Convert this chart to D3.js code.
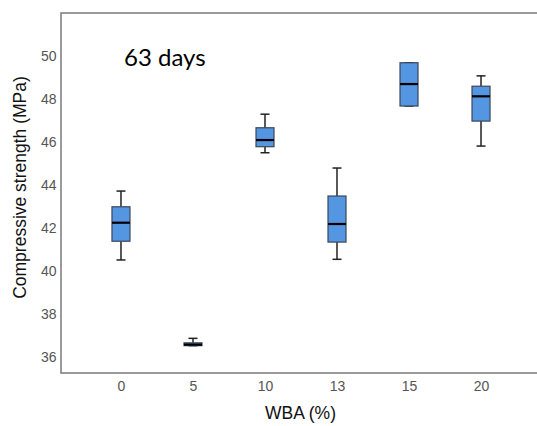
<!DOCTYPE html>
<html>
<head>
<meta charset="utf-8">
<script src="https://cdn.jsdelivr.net/npm/d3@7"></script>
<style>
  html, body { margin: 0; padding: 0; background: #fff; }
  svg { display: block; }
</style>
</head>
<body>
<svg id="chart" width="537" height="426"></svg>
<script>
// WBA replacement levels (%)
const categories = ["0", "5", "10", "13", "15", "20"];
// Box-plot statistics, compressive strength at 63 days (MPa)
const whiskerLow  = [40.53, 36.55, 45.51, 40.56, 47.68, 45.82];
const q1          = [41.40, 36.55, 45.79, 41.36, 47.68, 46.98];
const median      = [42.26, 36.60, 46.10, 42.20, 48.70, 48.13];
const q3          = [43.00, 36.68, 46.67, 43.50, 49.69, 48.60];
const whiskerHigh = [43.73, 36.89, 47.30, 44.80, 49.69, 49.08];
const yTicks = [36, 38, 40, 42, 44, 46, 48, 50];

const data = categories.map((c, i) => ({
  cat: c, lo: whiskerLow[i], q1: q1[i], med: median[i], q3: q3[i], hi: whiskerHigh[i]
}));

const svg = d3.select("#chart");
const plotLeft = 61, plotTop = 13, plotRight = 541, plotBottom = 373;

const x = d3.scalePoint().domain(categories).range([plotLeft, plotRight]).padding(0.833);
const y = d3.scaleLinear().domain([35.28, 52]).range([plotBottom, plotTop]);

const boxW = 18, capW = 9;
const sans = "Liberation Sans, Arial, sans-serif";

// Plot frame (left, top, bottom)
svg.append("path")
  .attr("d", `M${plotRight},${plotTop}H${plotLeft}V${plotBottom}H${plotRight}`)
  .attr("fill", "none")
  .attr("stroke", "#7a7a7a")
  .attr("stroke-width", 1.5);

// Y axis labels
const yAxis = d3.axisLeft(y).tickValues(yTicks).tickSize(0).tickPadding(4.5);
const gy = svg.append("g").attr("transform", `translate(${plotLeft},0)`).call(yAxis);
gy.select(".domain").remove();
gy.selectAll("text")
  .attr("font-family", sans)
  .attr("font-size", 14)
  .attr("fill", "#555");

// X axis labels
const xAxis = d3.axisBottom(x).tickSize(0).tickPadding(8);
const gx = svg.append("g").attr("transform", `translate(0,${plotBottom})`).call(xAxis);
gx.select(".domain").remove();
gx.selectAll("text")
  .attr("font-family", sans)
  .attr("font-size", 14)
  .attr("fill", "#555");

// Axis titles
svg.append("text")
  .attr("x", 300.5).attr("y", 419)
  .attr("text-anchor", "middle")
  .attr("font-family", sans)
  .attr("font-size", 17.5)
  .attr("fill", "#111")
  .text("WBA (%)");

svg.append("text")
  .attr("transform", "translate(26,187.5) rotate(-90)")
  .attr("text-anchor", "middle")
  .attr("font-family", sans)
  .attr("font-size", 17.5)
  .attr("fill", "#111")
  .text("Compressive strength (MPa)");

// Annotation
svg.append("text")
  .attr("x", 124).attr("y", 66)
  .attr("font-family", "Lato, 'Open Sans', sans-serif")
  .attr("font-size", 24)
  .attr("fill", "#000")
  .text("63 days");

// Boxes
const g = svg.append("g").selectAll("g").data(data).join("g");

g.append("line")
  .attr("x1", d => x(d.cat)).attr("x2", d => x(d.cat))
  .attr("y1", d => y(d.hi)).attr("y2", d => y(d.q3))
  .attr("stroke", "#222").attr("stroke-width", 1.5);
g.append("line")
  .attr("x1", d => x(d.cat)).attr("x2", d => x(d.cat))
  .attr("y1", d => y(d.q1)).attr("y2", d => y(d.lo))
  .attr("stroke", "#222").attr("stroke-width", 1.5);
g.append("line")
  .attr("x1", d => x(d.cat) - capW / 2).attr("x2", d => x(d.cat) + capW / 2)
  .attr("y1", d => y(d.hi)).attr("y2", d => y(d.hi))
  .attr("stroke", "#222").attr("stroke-width", 1.5);
g.append("line")
  .attr("x1", d => x(d.cat) - capW / 2).attr("x2", d => x(d.cat) + capW / 2)
  .attr("y1", d => y(d.lo)).attr("y2", d => y(d.lo))
  .attr("stroke", "#222").attr("stroke-width", 1.5);

g.append("rect")
  .attr("x", d => x(d.cat) - boxW / 2)
  .attr("y", d => y(d.q3))
  .attr("width", boxW)
  .attr("height", d => Math.max(1, y(d.q1) - y(d.q3)))
  .attr("fill", "#5596e2")
  .attr("stroke", "#3a4756")
  .attr("stroke-width", 1.2);

g.append("line")
  .attr("x1", d => x(d.cat) - boxW / 2).attr("x2", d => x(d.cat) + boxW / 2)
  .attr("y1", d => y(d.med)).attr("y2", d => y(d.med))
  .attr("stroke", "#000").attr("stroke-width", 2.2);
</script>
</body>
</html>
